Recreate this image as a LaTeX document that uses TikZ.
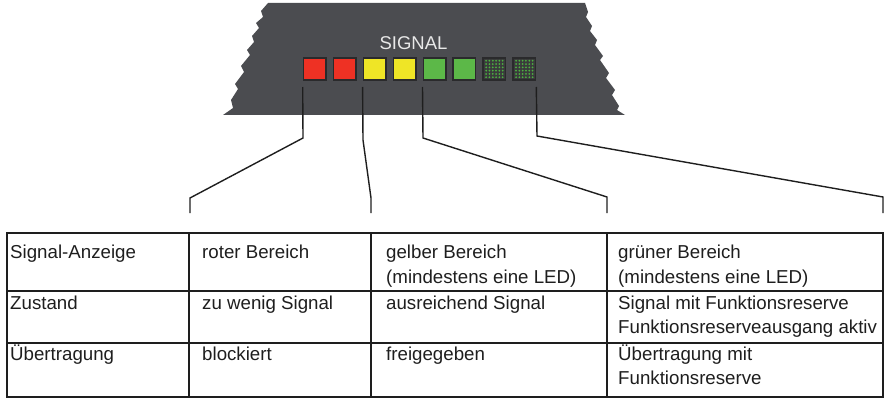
\documentclass[tikz,border=0pt]{standalone}
\usepackage{fontspec}
\setmainfont{Liberation Sans}
\definecolor{bodygray}{HTML}{4B4C50}
\definecolor{ledred}{HTML}{EE3124}
\definecolor{ledyellow}{HTML}{EFE526}
\definecolor{ledgreen}{HTML}{5CB848}
\definecolor{leddark}{HTML}{3A3B3C}
\definecolor{ledrim}{HTML}{2A2A2C}
\definecolor{dotgreen}{HTML}{4CB040}
\definecolor{titlegray}{HTML}{E8E8E8}
\definecolor{inkc}{HTML}{1E1E1E}
\tikzset{
  led/.style={draw=ledrim, line width=1.6pt, minimum size=22.4pt, inner sep=0pt},
  tabline/.style={draw=inkc, line width=2pt},
  leader/.style={draw=inkc, line width=1.4pt},
  celltext/.style={anchor=base west, inner sep=0pt, font=\fontsize{18.7}{21}\selectfont, text=inkc},
  titletext/.style={anchor=base, inner sep=0pt, font=\fontsize{18.5}{21}\selectfont, text=titlegray}
}
\begin{document}
\begin{tikzpicture}[x=1pt,y=-1pt]
\useasboundingbox (0,0) rectangle (884,401);
% device body
\fill[bodygray] (268,3) -- (585,3) -- (588,12) -- (586,17) -- (592,26) -- (590,31) -- (597,40) -- (595,45) -- (603,56) -- (600,60) -- (609,73) -- (606,78) -- (615,90) -- (612,95) -- (619,106) -- (617,110) -- (625,115)
 -- (223,115) -- (233,108) -- (231,100) -- (238,89) -- (235,84) -- (244,72) -- (241,66) -- (250,55) -- (247,50) -- (254,42) -- (252,36) -- (259,28) -- (256,23) -- (263,17) -- (261,11) -- cycle;
\node[titletext] (title) at (413.5,50) {SIGNAL};
% LEDs
\node[led, fill=ledred]    (led1) at (314.7,69) {};
\node[led, fill=ledred]    (led2) at (344.6,69) {};
\node[led, fill=ledyellow] (led3) at (374.6,69) {};
\node[led, fill=ledyellow] (led4) at (404.5,69) {};
\node[led, fill=ledgreen]  (led5) at (434.5,69) {};
\node[led, fill=ledgreen]  (led6) at (464.4,69) {};
\node[led, fill=leddark]   (led7) at (494.4,69) {};
\node[led, fill=leddark]   (led8) at (524.3,69) {};
\foreach \c in {led7,led8}{
  \foreach \i in {0,...,5}{
    \foreach \j in {0,...,5}{
      \fill[dotgreen] ([xshift={-8.25pt+3.3pt*\i}, yshift={-8.25pt+3.3pt*\j}]\c.center) circle (1pt);
    }
  }
}
% table
\draw[tabline] (7,233) rectangle (883,397);
\draw[tabline] (7,291) -- (883,291);
\draw[tabline] (7,343) -- (883,343);
\draw[tabline] (189,233) -- (189,397);
\draw[tabline] (371,233) -- (371,397);
\draw[tabline] (607,233) -- (607,397);
% leader ends
\coordinate (e1) at (190,213);
\coordinate (e2) at (371,213);
\coordinate (e3) at (607,213);
\coordinate (e4) at (883,213);
\draw[leader] ([yshift=-6pt]led1.south west) -- (303,138) -- (190,198) -- (e1);
\draw[leader] ([yshift=-6pt]led3.south west) -- (363,140) -- (371,198) -- (e2);
\draw[leader] ([yshift=-6pt]led5.south west) -- (423,138) -- (607,197) -- (e3);
\draw[leader] ([yshift=-6pt]led8.south east) -- (537,136) -- (883,197) -- (e4);
% cell texts
\node[celltext] (c11) at (10,258) {Signal-Anzeige};
\node[celltext] (c21) at (10,309) {Zustand};
\node[celltext] (c31) at (10,360) {Übertragung};
\node[celltext] (c12) at (202,258) {roter Bereich};
\node[celltext] (c22) at (202,309) {zu wenig Signal};
\node[celltext] (c32) at (202,360) {blockiert};
\node[celltext] (c13a) at (386,258) {gelber Bereich};
\node[celltext] (c13b) at (386,283) {(mindestens eine LED)};
\node[celltext] (c23) at (386,309) {ausreichend Signal};
\node[celltext] (c33) at (386,360) {freigegeben};
\node[celltext] (c14a) at (618,258) {grüner Bereich};
\node[celltext] (c14b) at (618,283) {(mindestens eine LED)};
\node[celltext] (c24a) at (618,309) {Signal mit Funktionsreserve};
\node[celltext] (c24b) at (618,333) {Funktionsreserveausgang aktiv};
\node[celltext] (c34a) at (618,360) {Übertragung mit};
\node[celltext] (c34b) at (618,384) {Funktionsreserve};
\end{tikzpicture}
\end{document}
